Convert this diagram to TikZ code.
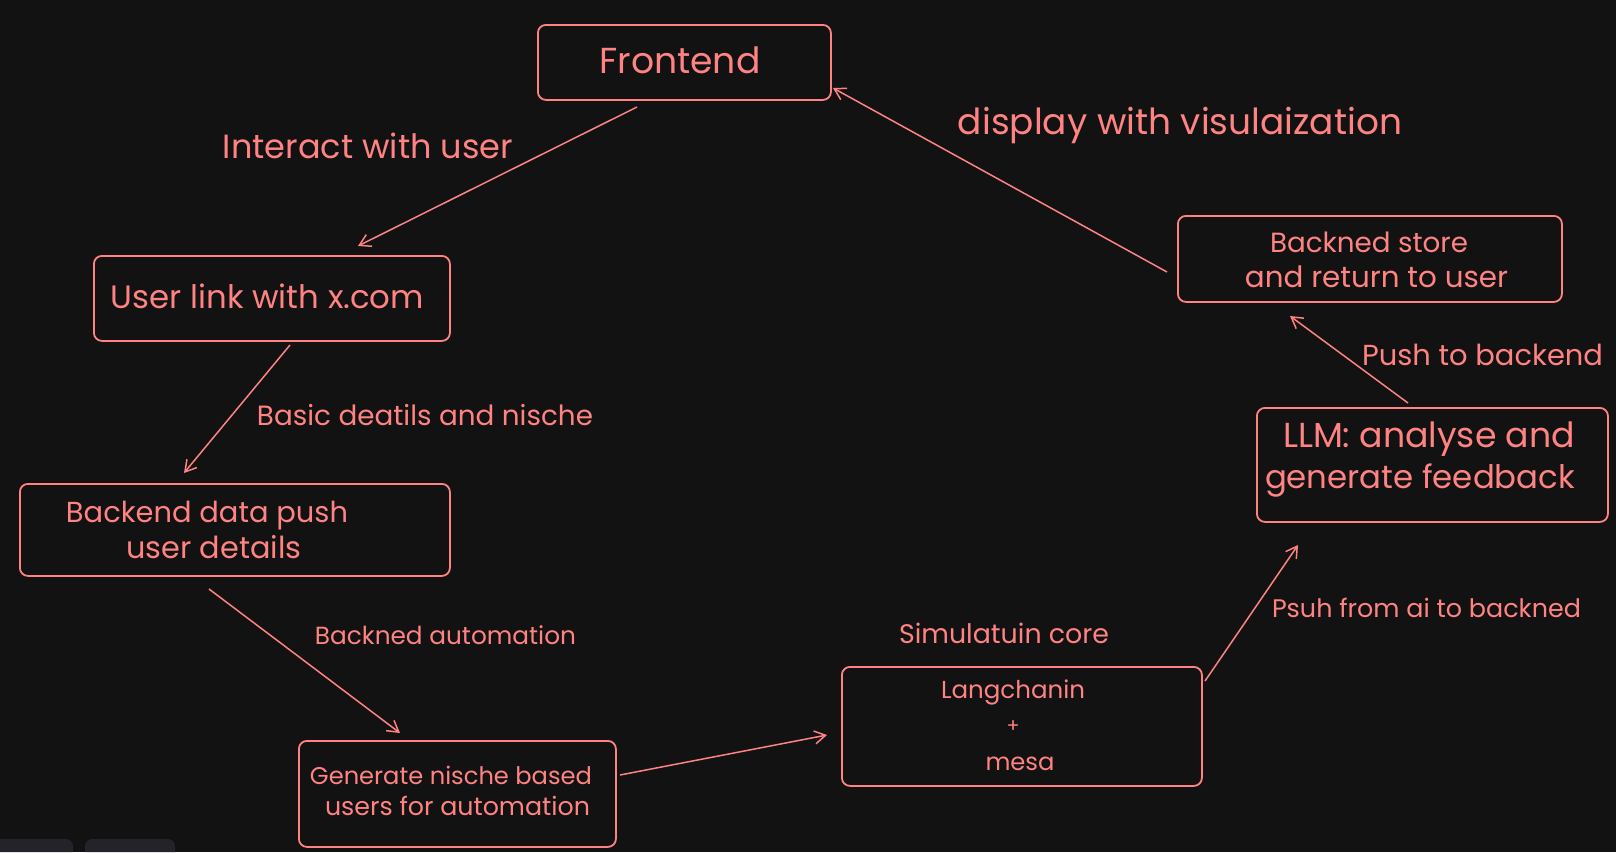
\documentclass[tikz,border=0pt]{standalone}
\usepackage{fontspec}
\setmainfont{Poppins}
\usetikzlibrary{arrows.meta}
\definecolor{bg}{HTML}{121212}
\definecolor{ink}{HTML}{FF8383}
\definecolor{tabgray}{HTML}{232329}
\newcommand\fw[2]{\resizebox{#1pt}{!}{#2}}
\tikzset{
  box/.style={draw=ink, line width=1.8pt, rounded corners=8pt, anchor=north west, inner sep=0pt},
  lbl/.style={text=ink, inner sep=0pt, anchor=base},
  conn/.style={draw=ink, line width=1.5pt, -{Straight Barb[length=11pt,width=13pt,line width=1.5pt]}},
}
\begin{document}
\begin{tikzpicture}[x=1pt,y=-1pt]
\fill[bg] (0,0) rectangle (1616,852);
\useasboundingbox (0,0) rectangle (1616,852);
% bottom-left tabs
\fill[tabgray] (0,852) -- (0,839) [rounded corners=7pt]-- (73,839) [sharp corners]-- (73,852) -- cycle;
\fill[tabgray] (85,852) [rounded corners=7pt]-- (85,839) -- (175,839) [sharp corners]-- (175,852) -- cycle;

% boxes
\node[box, minimum width=293pt, minimum height=75pt]  (front) at (537,24) {};
\node[box, minimum width=356pt, minimum height=85pt]  (user)  at (93,255) {};
\node[box, minimum width=430pt, minimum height=92pt]  (bdata) at (19,483) {};
\node[box, minimum width=317pt, minimum height=106pt] (gen)   at (298,740) {};
\node[box, minimum width=360pt, minimum height=119pt] (sim)   at (841,666) {};
\node[box, minimum width=351pt, minimum height=114pt] (llm)   at (1256,407) {};
\node[box, minimum width=384pt, minimum height=86pt]  (store) at (1177,215) {};

% box texts
\node[lbl] (front-t) at (680,73) {\fw{161}{Frontend}};
\node[lbl] (user-t) at (267.5,308) {\fw{313}{User link with x.com}};
\node[lbl] (bdata-t1) at (207,522) {\fw{282}{Backend data push}};
\node[lbl] (bdata-t2) at (214,558) {\fw{175}{user details}};
\node[lbl] (gen-t1) at (451,784) {\fw{282}{Generate nische based}};
\node[lbl] (gen-t2) at (457.5,815) {\fw{265}{users for automation}};
\node[lbl] (sim-t1) at (1013,698) {\fw{144}{Langchanin}};
\node[lbl, anchor=center] (sim-t2) at (1013,727) {\fw{13}{+}};
\node[lbl] (sim-t3) at (1020,770) {\fw{69}{mesa}};
\node[lbl] (llm-t1) at (1429,447) {\fw{292}{LLM: analyse and}};
\node[lbl] (llm-t2) at (1420,488) {\fw{310}{generate feedback}};
\node[lbl] (store-t1) at (1369,252) {\fw{198}{Backned store}};
\node[lbl] (store-t2) at (1376.5,287) {\fw{263}{and return to user}};

% free labels
\node[lbl] (l-interact) at (368,158) {\fw{290}{Interact with user}};
\node[lbl] (l-display) at (1180,134) {\fw{444}{display with visulaization}};
\node[lbl] (l-basic) at (425,425) {\fw{336}{Basic deatils and nische}};
\node[lbl] (l-auto) at (445.5,644) {\fw{261}{Backned automation}};
\node[lbl] (l-simcore) at (1004,643) {\fw{210}{Simulatuin core}};
\node[lbl] (l-psuh) at (1426.5,617) {\fw{309}{Psuh from ai to backned}};
\node[lbl] (l-push) at (1482.5,365) {\fw{241}{Push to backend}};

% connector end points
\coordinate (front-out) at (637,107);
\coordinate (user-in) at (358,246);
\coordinate (store-out) at (1167,272);
\coordinate (front-in) at (833,88);
\coordinate (user-out) at (290,345);
\coordinate (bdata-in) at (184,473);
\coordinate (bdata-out) at (209,589);
\coordinate (gen-in) at (400,733);
\coordinate (gen-out) at (620,775);
\coordinate (sim-in) at (827,735);
\coordinate (sim-out) at (1205,681);
\coordinate (llm-in) at (1298,545);
\coordinate (llm-out) at (1408,403);
\coordinate (store-in) at (1290,316);

% connectors
\draw[conn] (front-out) -- (user-in);
\draw[conn] (store-out) -- (front-in);
\draw[conn] (user-out) -- (bdata-in);
\draw[conn] (bdata-out) -- (gen-in);
\draw[conn] (gen-out) -- (sim-in);
\draw[conn] (sim-out) -- (llm-in);
\draw[conn] (llm-out) -- (store-in);
\end{tikzpicture}
\end{document}
